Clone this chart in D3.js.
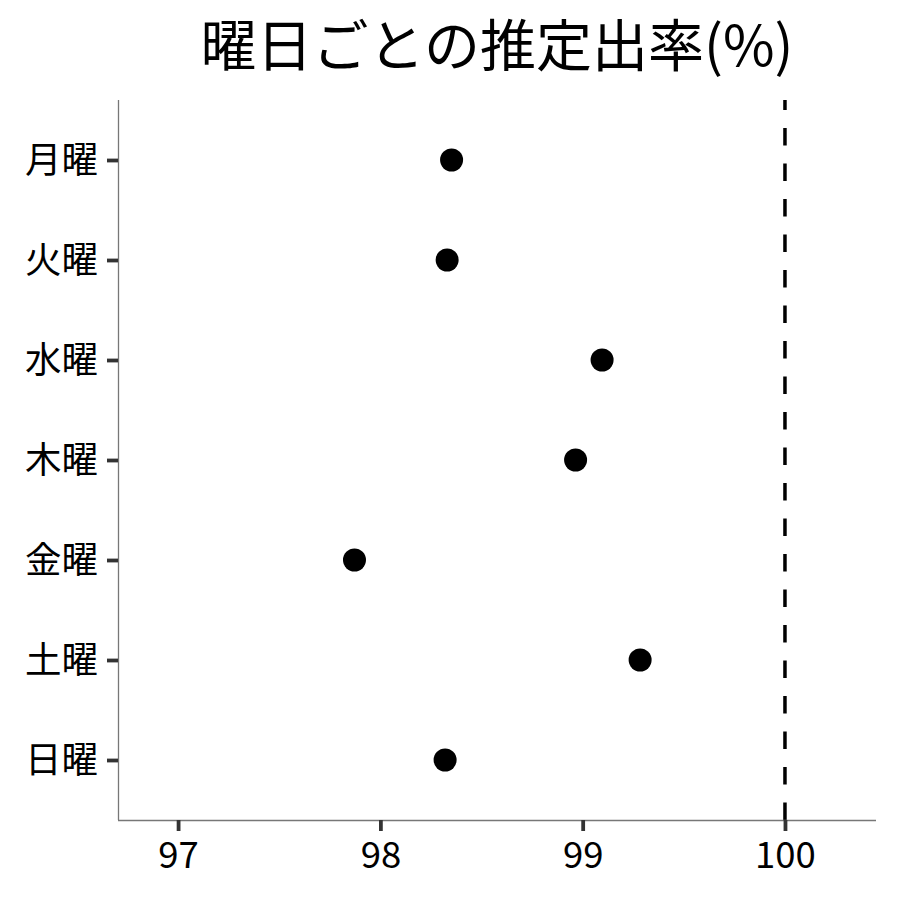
<!DOCTYPE html>
<html><head><meta charset="utf-8">
<script src="https://cdn.jsdelivr.net/npm/d3@7"></script>
<style>body{margin:0;background:#fff}</style>
</head><body>
<svg id="c" width="900" height="900"></svg>
<script>
const categories = ["月曜","火曜","水曜","木曜","金曜","土曜","日曜"];
const values = [98.352, 98.33, 99.096, 98.965, 97.872, 99.284, 98.32];
const xTicks = [97, 98, 99, 100];
const refLine = 100;
const title = "曜日ごとの推定出率(%)";

const FONT = "'Noto Sans CJK JP','Noto Sans',sans-serif";
const svg = d3.select("#c");
const pL = 118, pR = 876, pT = 100, pB = 820;

const x = d3.scaleLinear().domain([96.703, 100.45]).range([pL, pR]);
const y = d3.scalePoint().domain(categories).range([pT, pB]).padding(0.6);

// title
svg.append("text").attr("x", (pL+pR)/2).attr("y", 66)
  .attr("text-anchor","middle").attr("font-family",FONT).attr("font-size",56)
  .attr("fill","#000").text(title);

// reference line (dashes start from bottom)
svg.append("line").attr("x1", x(refLine)).attr("x2", x(refLine))
  .attr("y1", pB).attr("y2", pT)
  .attr("stroke","#000").attr("stroke-width",3.5).attr("stroke-dasharray","17.5,18");

// points
svg.append("g").selectAll("circle").data(values).join("circle")
  .attr("cx", d => x(d)).attr("cy", (d,i) => y(categories[i]))
  .attr("r", 11.5).attr("fill","#000");

// axes
const xAxis = svg.append("g").attr("transform",`translate(0,${pB})`)
  .call(d3.axisBottom(x).tickValues(xTicks).tickFormat(d3.format("d")).tickSize(11).tickPadding(9).tickSizeOuter(0));
const yAxis = svg.append("g").attr("transform",`translate(${pL},0)`)
  .call(d3.axisLeft(y).tickSize(11).tickPadding(9).tickSizeOuter(0));

[xAxis, yAxis].forEach(g => {
  g.select(".domain").attr("stroke","#777").attr("stroke-width",1.3);
  g.selectAll(".tick line").attr("stroke","#333").attr("stroke-width",3.8);
  g.selectAll(".tick text").attr("font-family",FONT).attr("font-size",36.5).attr("fill","#000");
});
yAxis.selectAll(".tick text").attr("dy","0.35em");
xAxis.selectAll(".tick text").attr("dy","0.76em");
xAxis.select(".domain").attr("d", `M${pL},0.5H${pR}`);
yAxis.select(".domain").attr("d", `M0.5,${pT}V${pB}`);
</script>
</body></html>
